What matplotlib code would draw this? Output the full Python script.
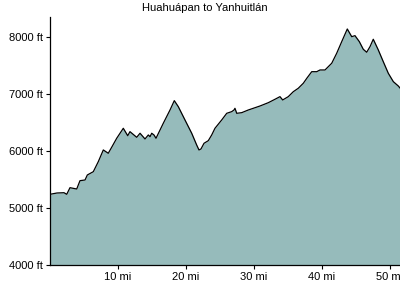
import matplotlib
matplotlib.use("Agg")
import matplotlib.pyplot as plt
from matplotlib.ticker import FuncFormatter

distance_mi = [0.0, 1.03, 2.06, 2.46, 2.94, 3.93, 4.41, 5.15, 5.49, 6.37, 7.10, 7.84, 8.57, 9.07,
               9.81, 10.78, 11.43, 11.76, 12.75, 13.24, 13.97, 14.46, 14.71, 14.96, 15.29, 15.59,
               16.66, 17.65, 18.28, 18.87, 19.85, 20.84, 21.57, 21.91, 22.2, 22.65, 23.28, 23.78,
               24.26, 25.25, 25.99, 26.72, 27.06, 27.2, 27.46, 28.19, 29.16, 29.9, 30.88, 32.1,
               33.09, 33.82, 34.22, 35.04, 35.78, 36.51, 37.25, 37.8, 38.49, 39.22, 39.71, 40.44,
               41.43, 42.16, 42.9, 43.72, 44.37, 44.85, 45.49, 46.07, 46.57, 47.06, 47.54, 48.28,
               49.01, 49.75, 50.49, 51.22, 51.47]
elevation_ft = [5240, 5263, 5268, 5240, 5356, 5333, 5479, 5491, 5579, 5637, 5812, 6018, 5960, 6065,
                6223, 6398, 6268, 6339, 6240, 6311, 6211, 6281, 6251, 6311, 6281, 6223,
                6486, 6719, 6883, 6777, 6544, 6311, 6105, 6018, 6035, 6135, 6181, 6281,
                6398, 6544, 6661, 6690, 6719, 6749, 6661, 6672, 6719, 6749, 6789, 6847,
                6907, 6953, 6895, 6953, 7040, 7100, 7188, 7281, 7391, 7391, 7421, 7421,
                7539, 7714, 7918, 8140, 8005, 8023, 7918, 7784, 7732, 7830, 7960, 7772,
                7567, 7363, 7216, 7140, 7105]
x_ticks = [10, 20, 30, 40, 50]
y_ticks = [4000, 5000, 6000, 7000, 8000]
title = "Huahuápan to Yanhuitlán"

plt.rcParams['font.family'] = ['Liberation Sans', 'DejaVu Sans']
fig = plt.figure(figsize=(4, 3), dpi=100)
ax = fig.add_axes([0.125, 0.1167, 0.875, 0.8266])
ax.fill_between(distance_mi, elevation_ft, 4000, color='#96bbbb', linewidth=0)
ax.plot(distance_mi, elevation_ft, color='black', linewidth=0.9)
ax.set_xlim(0, 51.47)
ax.set_ylim(4000, 8350)
ax.set_xticks(x_ticks)
ax.set_yticks(y_ticks)
ax.xaxis.set_major_formatter(FuncFormatter(lambda v, p: f"{int(v)} mi"))
ax.yaxis.set_major_formatter(FuncFormatter(lambda v, p: f"{int(v)} ft"))
ax.tick_params(labelsize=8, length=3, width=0.8, pad=2, colors='black')
for s in ['top', 'right']:
    ax.spines[s].set_visible(False)
for s in ['left', 'bottom']:
    ax.spines[s].set_linewidth(0.9)
fig.text(0.5125, 0.973, title, ha='center', va='center', fontsize=8)
fig.savefig("out.png", dpi=100)
